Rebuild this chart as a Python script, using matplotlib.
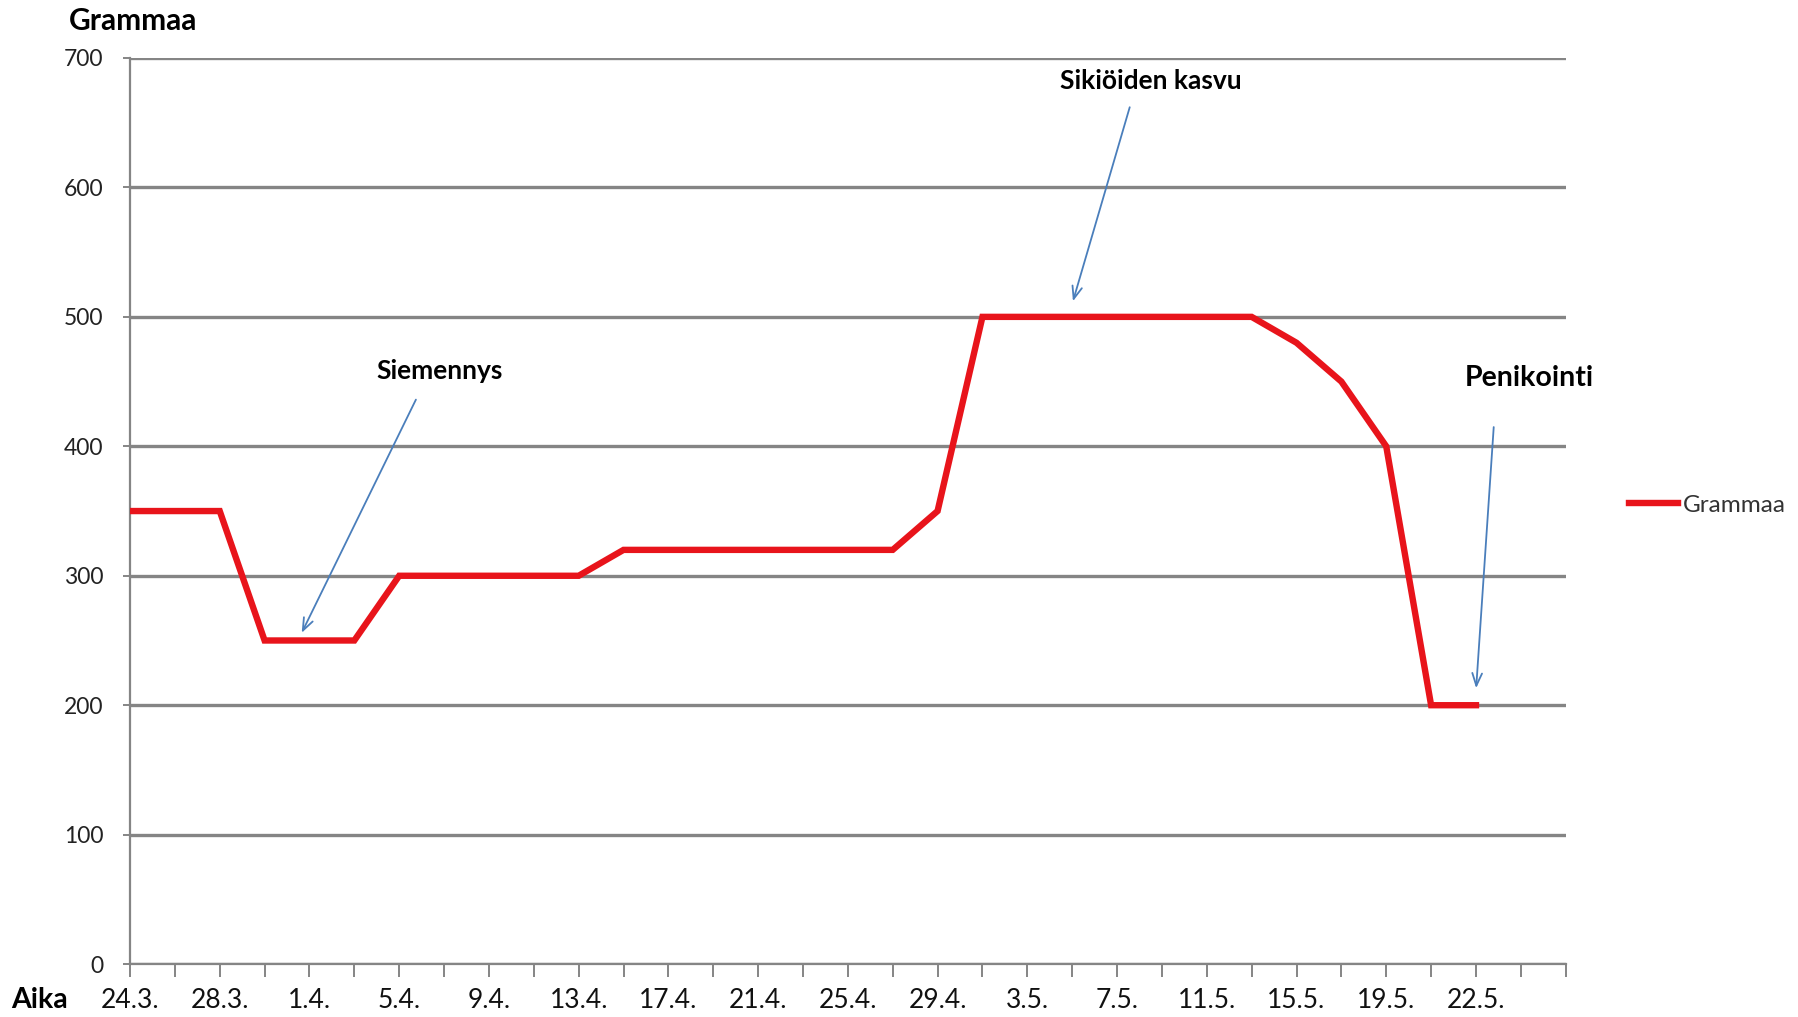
import matplotlib
matplotlib.use("Agg")
import matplotlib.pyplot as plt
import numpy as np

plt.rcParams['font.family'] = ['Lato', 'DejaVu Sans']

# category labels (every second category carries a label)
date_labels = ["24.3.", "28.3.", "1.4.", "5.4.", "9.4.", "13.4.", "17.4.", "21.4.",
               "25.4.", "29.4.", "3.5.", "7.5.", "11.5.", "15.5.", "19.5.", "22.5."]
grams = [350, 350, 350, 250, 250, 250, 300, 300, 300, 300, 300,
         320, 320, 320, 320, 320, 320, 320, 350,
         500, 500, 500, 500, 500, 500, 500, 480, 450, 400, 200, 200]
n_cats = 33
y_ticks = [0, 100, 200, 300, 400, 500, 600, 700]

# annotations: text, text pos (data), arrow start, arrow end, font size
notes = [
    ("Siemennys", (6.9, 458), (6.4, 438), (3.8, 254), 19),
    ("Sikiöiden kasvu", (22.75, 682), (22.3, 664), (21.0, 510), 19),
    ("Penikointi", (31.2, 453), (30.4, 417), (30.0, 211), 20.5),
]

fig = plt.figure(figsize=(17.98, 10.17), dpi=100)
ax = fig.add_axes([0.0723, 0.052, 0.7985, 0.891])

x = np.arange(len(grams))
line, = ax.plot(x, grams, color="#e8141b", lw=4.6, solid_joinstyle="miter", label="Grammaa", zorder=3)

ax.set_xlim(0, n_cats - 1)
ax.set_ylim(0, 700)
ax.set_yticks(y_ticks)
ax.set_yticklabels([str(v) for v in y_ticks], fontsize=16.5, color="#222222")
ax.set_xticks(np.arange(n_cats))
labels = []
for i in range(n_cats):
    if i % 2 == 0 and i // 2 < len(date_labels):
        labels.append(date_labels[i // 2])
    else:
        labels.append("")
ax.set_xticklabels(labels, fontsize=19, color="#111111",
                   family=['Liberation Sans Narrow', 'Lato', 'DejaVu Sans'])

ax.grid(axis="y", color="#858585", lw=2.4)
ax.set_axisbelow(True)
for s in ["top", "right"]:
    ax.spines[s].set_visible(False)
for s in ["left", "bottom"]:
    ax.spines[s].set_color("#858585")
    ax.spines[s].set_linewidth(1.6)
ax.tick_params(axis="x", length=9, width=1.4, color="#858585", pad=8, direction="out")
ax.tick_params(axis="y", length=5, width=1.4, color="#858585", pad=14, direction="out")

for txt, tpos, a0, a1, fs in notes:
    ax.text(tpos[0], tpos[1], txt, fontsize=fs, fontweight="bold", ha="center", va="center")
    ax.annotate("", xy=a1, xytext=a0,
                arrowprops=dict(arrowstyle="->,head_length=0.9,head_width=0.35",
                                color="#4a7ebb", lw=1.3))

fig.text(0.074, 0.979, "Grammaa", fontsize=21.5, fontweight="bold", ha="center", va="center")
fig.text(0.022, 0.017, "Aika", fontsize=20.5, fontweight="bold", ha="center", va="center")

fig.legend(handles=[line], loc="center left", bbox_to_anchor=(0.894, 0.503), frameon=False,
           fontsize=17.5, handlelength=2.0, handletextpad=0.2, labelcolor="#333333")

fig.savefig("out.png", dpi=100)
